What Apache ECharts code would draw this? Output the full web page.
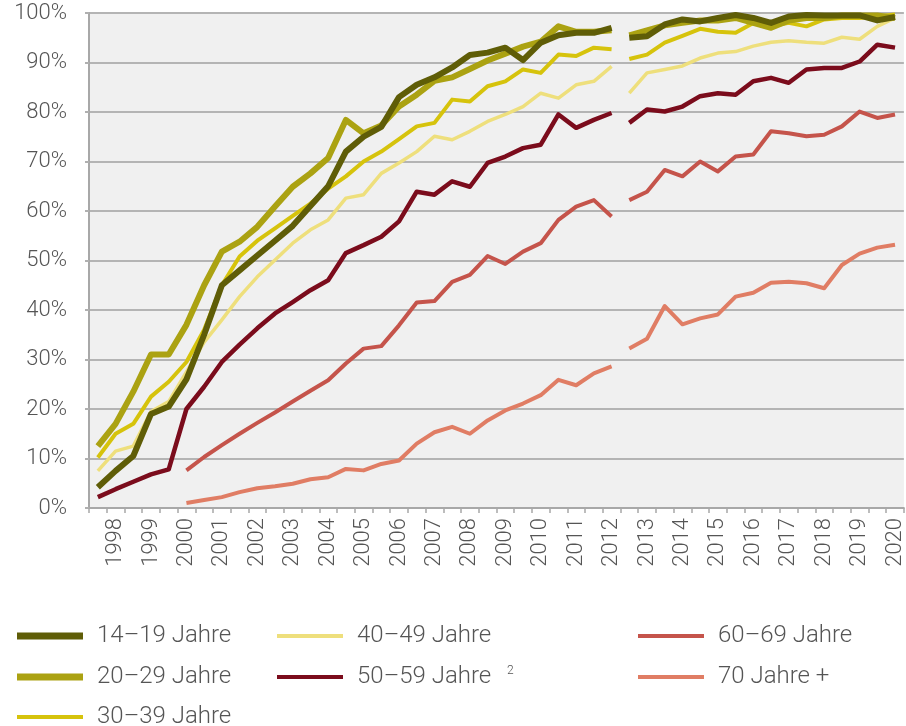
<!DOCTYPE html>
<html>
<head>
<meta charset="utf-8">
<script src="https://cdn.jsdelivr.net/npm/echarts@6/dist/echarts.min.js"></script>
<style>
  html, body { margin: 0; padding: 0; background: #fff; }
  #chart { width: 906px; height: 726px; }
</style>
</head>
<body>
<div id="chart"></div>
<script>
// Jahre (je zwei Halbjahreswerte pro Jahr)
const years = ['1998', '1999', '2000', '2001', '2002', '2003', '2004', '2005', '2006', '2007', '2008', '2009',
  '2010', '2011', '2012', '2013', '2014', '2015', '2016', '2017', '2018', '2019', '2020']
const categories = years.flatMap((y) => [y + ' I', y + ' II'])
// ab 2013 neue Methodik -> Linie wird unterbrochen
const breakIndex = categories.indexOf('2013 I')

const yTicks = [0, 10, 20, 30, 40, 50, 60, 70, 80, 90, 100]

const j14_19 = [4.2, 7.5, 10.5, 19, 20.5, 26, 35, 45, 48, 51, 54, 57, 61, 65, 72, 75, 77, 83, 85.5, 87,
  89, 91.5, 92, 93, 90.5, 94, 95.5, 96, 96, 97,
  95, 95.3, 97.7, 98.7, 98.3, 99, 99.6, 99, 98, 99.3, 99.6, 99.5, 99.5, 99.5, 98.5, 99.2]
const j20_29 = [12.5, 17, 23.5, 31, 31, 37, 45, 51.8, 53.8, 56.8, 60.9, 64.9, 67.6, 70.7, 78.4, 75.7, 77.3, 81.1, 83.5, 86.3,
  87, 88.7, 90.4, 91.8, 93.2, 94.2, 97.3, 96.2, 96.2, 96.5,
  95.5, 96.5, 97.5, 98, 98.5, 98.5, 99, 98, 97, 98.5, 99, 99, 99.5, 99.5, 99.5, 99]
const j30_39 = [10.2, 15, 17, 22.5, 25.5, 29.5, 36, 45, 50.8, 54, 56.5, 59, 61.5, 64.5, 67, 70, 72, 74.5, 77.1, 77.8,
  82.5, 82.1, 85.2, 86.2, 88.6, 87.9, 91.6, 91.3, 93, 92.7,
  90.7, 91.6, 94, 95.4, 96.8, 96.2, 96, 98, 97.3, 98, 97.3, 98.7, 99, 99, 99.3, 99.7]
const j40_49 = [7.5, 11.5, 12.5, 19.5, 21.5, 27.5, 33.5, 38, 42.7, 46.7, 50.1, 53.5, 56.2, 58.2, 62.6, 63.3, 67.6, 69.7, 72, 75.1,
  74.4, 76.1, 78.1, 79.5, 81.1, 83.8, 82.8, 85.5, 86.2, 89.2,
  83.8, 87.9, 88.6, 89.3, 90.9, 91.9, 92.2, 93.3, 94.1, 94.4, 94.1, 93.9, 95.1, 94.7, 97.3, 99]
const j50_59 = [2.2, 3.8, 5.3, 6.8, 7.8, 20, 24.5, 29.5, 33, 36.3, 39.3, 41.6, 44, 46, 51.5, 53.1, 54.8, 57.9, 63.9, 63.3,
  66, 64.9, 69.7, 71, 72.7, 73.4, 79.5, 76.8, 78.4, 79.8,
  77.8, 80.5, 80.1, 81.1, 83.2, 83.8, 83.5, 86.2, 86.9, 85.9, 88.6, 88.9, 88.9, 90.2, 93.6, 93]
const j60_69 = [null, null, null, null, null, 7.6, 10.3, 12.7, 15, 17.2, 19.3, 21.5, 23.7, 25.8, 29.2, 32.2, 32.7, 36.9, 41.5, 41.8,
  45.7, 47.1, 50.9, 49.3, 51.8, 53.5, 58.2, 60.9, 62.2, 58.9,
  62.2, 63.9, 68.3, 67, 70, 68, 71, 71.4, 76.1, 75.7, 75.1, 75.4, 77.1, 80.1, 78.8, 79.5]
const j70plus = [null, null, null, null, null, 1, 1.6, 2.2, 3.2, 4, 4.4, 4.9, 5.8, 6.2, 7.9, 7.6, 8.9, 9.6, 13, 15.3,
  16.4, 15, 17.7, 19.7, 21.1, 22.8, 25.9, 24.8, 27.2, 28.6,
  32.2, 34.2, 40.8, 37.1, 38.3, 39.1, 42.7, 43.5, 45.5, 45.7, 45.4, 44.4, 49.1, 51.4, 52.6, 53.2]

// Reihenfolge = Zeichenreihenfolge (letzte liegt oben)
const groups = [
  { name: '70 Jahre +', data: j70plus, color: '#e07d64', width: 4 },
  { name: '60–69 Jahre', data: j60_69, color: '#c5544b', width: 4 },
  { name: '50–59 Jahre', data: j50_59, color: '#7b0c1c', width: 4.5 },
  { name: '40–49 Jahre', data: j40_49, color: '#eedf7c', width: 3.5 },
  { name: '30–39 Jahre', data: j30_39, color: '#d6c30c', width: 4 },
  { name: '20–29 Jahre', data: j20_29, color: '#aba212', width: 6 },
  { name: '14–19 Jahre', data: j14_19, color: '#5f5d07', width: 6 }
]

const textColor = '#555'
const font = 'Roboto, "DejaVu Sans", sans-serif'

const series = []
groups.forEach((g) => {
  // vor und nach dem Methodenwechsel als getrennte Linien
  const parts = [
    g.data.map((v, i) => (i < breakIndex ? v : null)),
    g.data.map((v, i) => (i >= breakIndex ? v : null))
  ]
  parts.forEach((d) => {
    series.push({
      name: g.name,
      type: 'line',
      data: d,
      symbol: 'none',
      smooth: false,
      connectNulls: false,
      itemStyle: { color: g.color },
      lineStyle: { color: g.color, width: g.width, join: 'round' }
    })
  })
})

// Legende: drei Spalten, eine Komponente pro Eintrag
const legendPos = [
  { name: '14–19 Jahre', left: 12, top: 619, h: 7 },
  { name: '20–29 Jahre', left: 12, top: 660, h: 7 },
  { name: '30–39 Jahre', left: 12, top: 700, h: 4 },
  { name: '40–49 Jahre', left: 272, top: 619, h: 4 },
  { name: '50–59 Jahre', left: 272, top: 660, h: 4 },
  { name: '60–69 Jahre', left: 633, top: 619, h: 4 },
  { name: '70 Jahre +', left: 633, top: 660, h: 4 }
]

const legend = legendPos.map((p) => ({
  data: [{ name: p.name, icon: 'rect' }],
  left: p.left,
  top: p.top,
  itemWidth: 66,
  itemHeight: p.h,
  selectedMode: false,
  formatter: (name) => (name === '50–59 Jahre' ? name + ' {sup|2}' : name),
  textStyle: {
    fontFamily: font,
    fontWeight: 300,
    fontSize: 24,
    color: textColor,
    padding: [0, 0, 0, 9],
    rich: {
      sup: { fontSize: 12, fontFamily: font, color: textColor, padding: [0, 0, 12, 10] }
    }
  }
}))

const chart = echarts.init(document.getElementById('chart'), null, { renderer: 'canvas' })

chart.setOption({
  animation: false,
  backgroundColor: '#fff',
  grid: {
    left: 89,
    right: 0,
    top: 13,
    bottom: 218,
    show: true,
    backgroundColor: '#f0f0f0',
    borderWidth: 0
  },
  legend: legend,
  xAxis: {
    type: 'category',
    data: categories,
    boundaryGap: true,
    axisLine: { show: true, lineStyle: { color: '#a8a8a8', width: 2 } },
    axisTick: { show: true, interval: 0, length: 5, lineStyle: { color: '#a8a8a8', width: 1.5 } },
    axisLabel: {
      interval: (index) => index % 2 === 1,
      formatter: (value) => value.split(' ')[0],
      rotate: 90,
      margin: 10,
      fontFamily: font,
      fontWeight: 300,
      fontSize: 22,
      color: textColor
    },
    splitLine: { show: false }
  },
  yAxis: {
    type: 'value',
    min: yTicks[0],
    max: yTicks[yTicks.length - 1],
    interval: 10,
    axisLine: { show: true, lineStyle: { color: '#a8a8a8', width: 2 } },
    axisTick: { show: true, length: 4, lineStyle: { color: '#b0b0b0', width: 2 } },
    axisLabel: {
      formatter: '{value}%',
      margin: 22,
      fontFamily: font,
      fontWeight: 300,
      fontSize: 22,
      color: textColor
    },
    splitLine: { show: true, lineStyle: { color: '#b4b4b4', width: 2 } }
  },
  series: series
})
</script>
</body>
</html>
